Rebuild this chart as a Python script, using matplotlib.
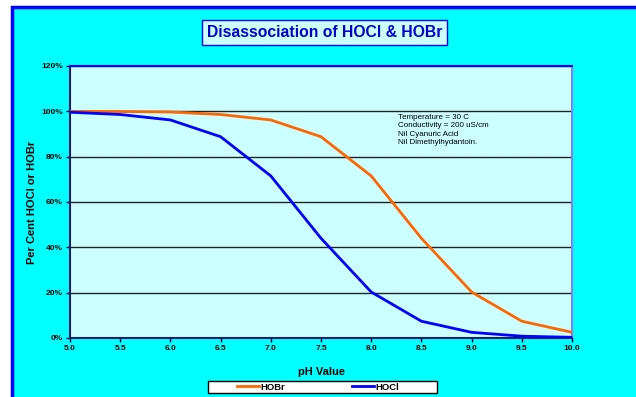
import matplotlib
matplotlib.use("Agg")
import matplotlib.pyplot as plt
import matplotlib.patches as mpatches
from matplotlib.ticker import FuncFormatter, MultipleLocator

plt.rcParams["font.family"] = ["Liberation Sans", "DejaVu Sans"]

ph = [5.0, 5.5, 6.0, 6.5, 7.0, 7.5, 8.0, 8.5, 9.0, 9.5, 10.0]
hobr = [100.0, 99.9, 99.7, 98.6, 96.2, 88.8, 71.5, 44.0, 20.3, 7.4, 2.5]
hocl = [99.6, 98.6, 96.2, 88.8, 71.5, 44.0, 20.3, 7.4, 2.5, 0.8, 0.3]
notes = ["Temperature = 30 C", "Conductivity = 200 uS/cm",
         "Nil Cyanuric Acid", "Nil Dimethylhydantoin."]

W, H = 636, 397
fig = plt.figure(figsize=(W / 100, H / 100), dpi=100, facecolor="white")

# cyan chart area with blue border (cropped at right and bottom)
bg = mpatches.Rectangle((12 / W, -0.1), 1.2, 1.1 - 7 / H, transform=fig.transFigure,
                        facecolor="#00FFFF", edgecolor="#0000FF", linewidth=2.5, zorder=-5)
fig.patches.append(bg)

# legend frame
legbox = mpatches.Rectangle((208 / W, 1 - 393 / H), 229 / W, 12 / H, transform=fig.transFigure,
                            facecolor="white", edgecolor="black", linewidth=1, zorder=-4)
fig.patches.append(legbox)

ax = fig.add_axes([70 / W, 1 - 338 / H, (572 - 70) / W, (338 - 66) / H])
ax.set_facecolor("#CCFFFF")

ax.plot(ph, hobr, color="#FF6600", linewidth=2, label="HOBr", zorder=3)
ax.plot(ph, hocl, color="#0000FF", linewidth=2, label="HOCl", zorder=3)

ax.set_xlim(5.0, 10.0)
ax.set_ylim(0, 120)
ax.xaxis.set_major_locator(MultipleLocator(0.5))
ax.yaxis.set_major_locator(MultipleLocator(20))
ax.xaxis.set_major_formatter(FuncFormatter(lambda v, p: f"{v:.1f}"))
ax.yaxis.set_major_formatter(FuncFormatter(lambda v, p: f"{v:.0f}%"))
ax.grid(axis="y", color="#222222", linewidth=1)
ax.set_axisbelow(True)
ax.tick_params(labelsize=6, length=3, width=1, color="#000033", pad=2)
for lab in ax.get_xticklabels() + ax.get_yticklabels():
    lab.set_fontweight("bold")

ax.spines["left"].set_color("#1a1a66")
ax.spines["bottom"].set_color("#1a1a66")
ax.spines["top"].set_color("#0000FF")
ax.spines["right"].set_color("#8080FF")
for s in ax.spines.values():
    s.set_linewidth(1.5)

ax.set_xlabel("pH Value", fontsize=8, fontweight="bold", labelpad=11)
ax.set_ylabel("Per Cent HOCl or HOBr", fontsize=8, fontweight="bold", labelpad=3)

ax.text(0.653, 0.825, "\n".join(notes), transform=ax.transAxes, fontsize=5.8,
        va="top", ha="left", linespacing=1.3)

fig.text(324.5 / W, 1 - 32.5 / H, "Disassociation of HOCl & HOBr", fontsize=11.3,
         fontweight="bold", color="#0000CC", ha="center", va="center",
         bbox=dict(boxstyle="square,pad=0.3", facecolor="#CCFFFF", edgecolor="#0000FF",
                   linewidth=1))

fig.legend(loc="center", bbox_to_anchor=(318 / W, 1 - 387 / H), ncol=2,
           frameon=False, handlelength=2.4, handletextpad=0.15,
           columnspacing=7, borderpad=0.1, prop={"weight": "bold", "size": 6.8})

fig.savefig("out.png", dpi=100, facecolor="white")
